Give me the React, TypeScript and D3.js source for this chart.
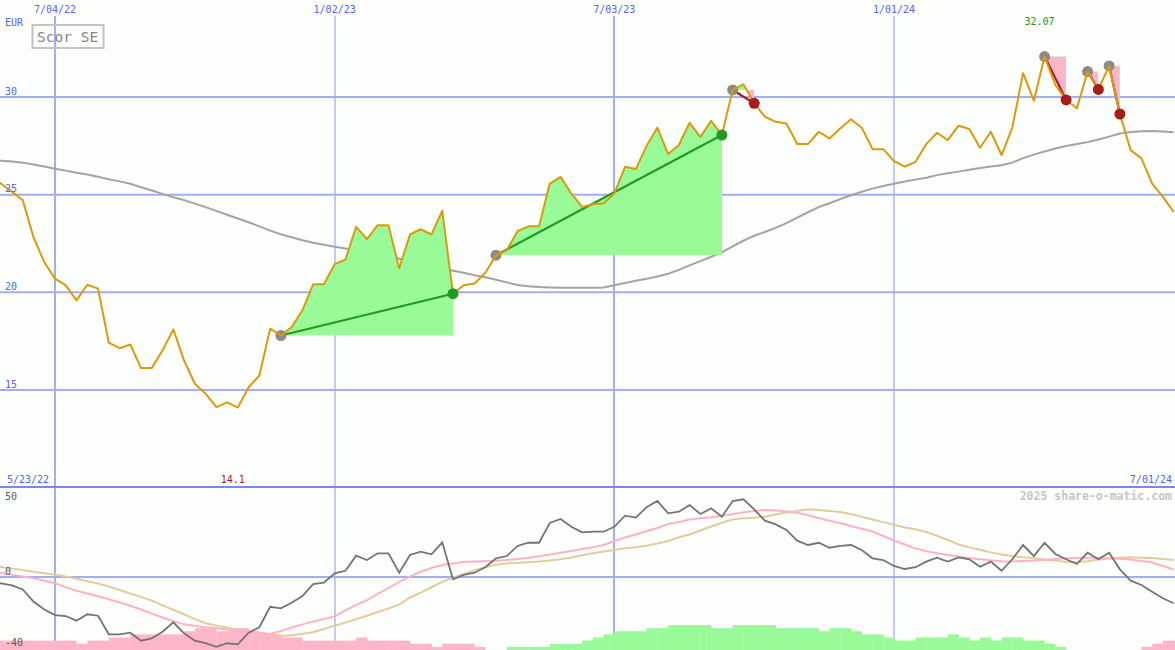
import React from 'react';
import * as d3 from 'd3';

const W = 1175;
const H = 650;

const firstWeek = '2022-05-23';
const xAnchors = ['2022-07-04', '2024-01-01'];
const tickDates = ['2022-07-04', '2023-01-02', '2023-07-03', '2024-01-01'];
const priceTicks = [15, 20, 25, 30];
const oscTicks = [50, 0, -40];
const title = 'Scor SE';
const currency = 'EUR';
const watermark = '2025 share-o-matic.com';

// weekly closes (EUR)
const price = [
  25.85, 25.56, 25.15, 24.72, 22.82, 21.55,
  20.70, 20.36, 19.59, 20.39, 20.19, 17.42, 17.14, 17.33, 16.12, 16.12,
  17.03, 18.10, 16.51, 15.32, 14.81, 14.12, 14.37, 14.10, 15.14, 15.74,
  18.14, 17.79, 18.22, 19.08, 20.41, 20.41, 21.44, 21.68, 23.35, 22.72,
  23.44, 23.44, 21.23, 22.96, 23.23, 22.96, 24.17, 19.93, 20.36, 20.45,
  20.99, 21.90, 22.15, 23.13, 23.38, 23.38, 25.57, 25.91, 25.06, 24.37,
  24.51, 24.55, 25.06, 26.43, 26.31, 27.50, 28.43, 27.08, 27.54, 28.68,
  27.96, 28.78, 28.05, 30.36, 30.65, 29.68, 28.99, 28.73, 28.64, 27.59,
  27.59, 28.22, 27.88, 28.39, 28.86, 28.43, 27.33, 27.33, 26.72, 26.43,
  26.68, 27.59, 28.17, 27.79, 28.53, 28.36, 27.40, 28.22, 27.03, 28.43,
  31.22, 29.81, 32.07, 30.62, 29.85, 29.42, 31.30, 30.39, 31.59, 29.13,
  27.28, 26.86, 25.57, 24.89, 24.12,
];

// long moving average (grey)
const maLong = [
  26.74, 26.73, 26.70, 26.64, 26.54, 26.44,
  26.33, 26.23, 26.12, 26.03, 25.92, 25.79, 25.68, 25.56, 25.38, 25.21,
  25.04, 24.87, 24.72, 24.54, 24.36, 24.17, 23.97, 23.78, 23.59, 23.38,
  23.16, 22.97, 22.82, 22.67, 22.54, 22.44, 22.33, 22.24, 22.15, 22.05,
  21.97, 21.95, 21.72, 21.54, 21.41, 21.31, 21.21, 21.10, 21.00, 20.87,
  20.77, 20.64, 20.51, 20.38, 20.31, 20.27, 20.25, 20.24, 20.24, 20.24,
  20.24, 20.25, 20.36, 20.48, 20.59, 20.69, 20.81, 20.95, 21.15, 21.38,
  21.60, 21.82, 22.05, 22.35, 22.64, 22.90, 23.09, 23.30, 23.54, 23.82,
  24.10, 24.36, 24.56, 24.77, 24.97, 25.15, 25.31, 25.44, 25.56, 25.67,
  25.77, 25.87, 26.00, 26.10, 26.18, 26.27, 26.36, 26.44, 26.51, 26.64,
  26.87, 27.05, 27.21, 27.36, 27.49, 27.59, 27.69, 27.82, 27.97, 28.13,
  28.21, 28.25, 28.26, 28.23, 28.19,
];

// lower panel oscillator (dark grey)
const osc = [
  -3.0, -4.0, -5.3, -7.8, -15.3, -20.3,
  -23.8, -24.4, -27.3, -23.3, -24.2, -35.8, -35.8, -34.8, -39.8, -38.3,
  -34.2, -28.3, -35.2, -39.8, -41.4, -43.6, -41.4, -42.1, -34.8, -31.4,
  -18.6, -19.6, -16.1, -11.9, -4.4, -3.6, 2.3, 3.9, 13.3, 10.6,
  14.8, 14.8, 2.7, 13.8, 15.8, 14.2, 21.7, -1.4, 1.3, 2.7,
  6.1, 11.7, 13.1, 19.4, 21.4, 21.4, 33.8, 36.3, 31.4, 27.9,
  28.3, 28.3, 31.4, 38.3, 37.1, 43.6, 47.5, 39.8, 40.8, 45.0,
  39.4, 42.9, 37.7, 47.5, 48.6, 42.3, 35.2, 32.9, 29.4, 22.7,
  20.0, 21.4, 18.3, 19.4, 20.0, 16.9, 11.7, 10.6, 6.9, 5.0,
  6.1, 9.6, 12.1, 9.6, 12.3, 11.1, 6.4, 9.6, 3.9, 11.1,
  20.0, 13.1, 21.4, 14.4, 11.1, 8.1, 15.2, 11.1, 15.2, 4.8,
  -2.3, -5.0, -9.2, -13.3, -16.4,
];

// fast average of oscillator (pink)
const oscFast = [
  3.8, 2.5, 1.4, 0.3, -0.8, -2.4,
  -3.9, -6.3, -8.6, -10.3, -12.0, -13.9, -15.9, -18.0, -20.3, -22.9,
  -25.3, -27.6, -29.6, -30.6, -31.4, -32.1, -32.7, -33.3, -33.9, -34.8,
  -35.6, -33.8, -31.6, -29.6, -27.9, -26.3, -24.6, -20.9, -17.5, -14.4,
  -10.6, -6.9, -3.1, 0.2, 3.3, 5.6, 7.5, 8.4, 9.4, 9.7,
  9.9, 10.1, 10.6, 11.3, 12.0, 12.9, 14.1, 15.2, 16.3, 17.5,
  18.6, 20.0, 22.5, 24.7, 26.6, 28.6, 30.6, 33.1, 34.4, 36.0,
  36.7, 37.3, 38.3, 39.4, 40.4, 41.3, 41.9, 41.6, 40.9, 40.1,
  38.6, 36.9, 35.2, 33.6, 31.9, 30.2, 28.4, 25.6, 22.8, 20.3,
  17.9, 16.1, 14.9, 13.7, 12.8, 11.9, 11.1, 10.4, 9.9, 9.7,
  10.0, 10.3, 10.8, 11.3, 11.7, 11.9, 12.0, 12.0, 11.7, 11.4,
  11.0, 10.0, 9.1, 6.9, 4.7,
];

// slow average of oscillator (tan)
const oscSlow = [
  7.4, 6.3, 5.3, 4.3, 3.3, 2.4,
  1.5, 0.4, -1.1, -2.6, -4.1, -5.9, -8.1, -10.4, -12.4, -14.8,
  -17.7, -20.5, -23.3, -26.3, -28.9, -30.4, -31.6, -32.9, -34.1, -35.1,
  -36.0, -36.8, -36.4, -35.4, -34.5, -32.5, -30.4, -28.5, -26.3, -24.2,
  -21.9, -19.6, -17.2, -12.8, -9.8, -6.4, -3.1, -0.4, 1.9, 4.3,
  6.1, 7.7, 8.5, 8.8, 9.2, 9.7, 10.3, 11.1, 12.2, 13.6,
  14.9, 16.0, 16.9, 17.9, 18.6, 19.6, 20.9, 22.5, 24.8, 26.6,
  29.1, 31.6, 33.9, 35.9, 36.7, 37.1, 37.7, 39.0, 40.4, 41.3,
  42.3, 41.9, 41.3, 40.6, 39.4, 37.7, 35.9, 34.3, 32.6, 31.0,
  29.8, 28.1, 25.8, 23.1, 20.3, 18.5, 17.0, 15.4, 14.1, 13.1,
  12.4, 11.8, 11.0, 10.3, 9.4, 9.2, 9.8, 10.9, 11.6, 12.0,
  12.3, 12.1, 11.8, 11.3, 10.7,
];

// histogram strength (positive green, negative pink)
const hist = [
  -3, -3, -3, -3, -3, -3, -3, -3, -2, -3,
  -3, -4, -4, -5, -5, -5, -5, -5, -6, -7,
  -7, -6, -7, -7, -6, -5, -5, -4, -4, -3,
  -3, -3, -3, -3, -4, -3, -3, -3, -3, -2,
  -2, -1, -2, -2, -2, -1, 0, 0, 1, 1,
  1, 1, 2, 2, 2, 3, 4, 5, 6, 6,
  6, 7, 7, 8, 8, 8, 8, 7, 7, 8,
  8, 8, 8, 7, 7, 7, 7, 6, 7, 7,
  6, 5, 5, 4, 3, 3, 4, 4, 4, 5,
  4, 3, 4, 3, 4, 4, 3, 3, 2, 1,
  0, 0, 0, 0, 0, 0, 0, -1, -2, -3, -3,
];

// trend signals (week indices)
const signalStart = [27, 47, 69, 98, 102, 104];
const signalEnd = [43, 68, 71, 100, 103, 105];

const FONT = 'DejaVu Sans Mono, monospace';
const BLUE_TEXT = '#5565ee';
const GRID = '#a2adf3';
const SEP = '#7a88ee';
const GREEN_FILL = '#98fb98';
const PINK_FILL = '#ffb6c8';
const GREEN = '#229a22';
const RED = '#a81c1c';

const utc = (s: string) => new Date(s + 'T00:00:00Z');

export default function App() {
  const start = utc(firstWeek);
  const dates = price.map((_, i) => d3.utcDay.offset(start, 7 * i));
  const x = d3.scaleUtc().domain(xAnchors.map(utc)).range([55, 894]);
  const y = d3.scaleLinear().domain([15, 30]).range([390, 97]);
  const yb = d3.scaleLinear().domain([-40, 50]).range([641, 497]);
  const yh = d3.scaleLinear().domain([0, 8]).range([650, 625]);
  const fmt = d3.utcFormat('%-m/%d/%y');
  const idx = d3.range(price.length);

  const lineOf = (arr: number[], sc: (v: number) => number) =>
    d3.line<number>().x(i => x(dates[i])).y(i => sc(arr[i]))(idx) || '';

  const iMax = d3.maxIndex(price);
  const iMin = d3.minIndex(price);
  const numFmt = (v: number) => String(+v.toFixed(2));

  const signals = signalStart.map((s, k) => {
    const e = signalEnd[k];
    const base = price[s];
    const yb0 = y(base);
    const r = d3.range(s, e + 1);
    const area = d3.area<number>().x(i => x(dates[i])).y0(yb0).y1(i => y(price[i]))(r) || '';
    const xs = x(dates[s]);
    const xe = x(dates[e]);
    const ye = y(price[e]);
    const tri = `M${xs},${yb0}L${xe},${ye}L${xe},${yb0}Z`;
    const up = price[e] > base;
    return { k, s, e, yb0, area, tri, xs, xe, ye, up };
  });

  const oscLabelY = (v: number) => {
    if (v === d3.max(oscTicks)) return yb(v) + 3;
    if (v === d3.min(oscTicks)) return yb(v) + 4.5;
    return yb(v) - 2.5;
  };

  return (
    <svg width={W} height={H} style={{ position: 'absolute', left: 0, top: 0 }} xmlns="http://www.w3.org/2000/svg">
      <defs>
        <clipPath id="mainClip"><rect x={0} y={0} width={W} height={487} /></clipPath>
        <clipPath id="lowClip"><rect x={0} y={489} width={W} height={H - 489} /></clipPath>
        {signals.map(sg => (
          <React.Fragment key={sg.k}>
            <clipPath id={`above${sg.k}`}><rect x={0} y={0} width={W} height={sg.yb0} /></clipPath>
            <clipPath id={`below${sg.k}`}><rect x={0} y={sg.yb0} width={W} height={487 - sg.yb0} /></clipPath>
            <clipPath id={`tri${sg.k}`}><path d={sg.tri} /></clipPath>
          </React.Fragment>
        ))}
      </defs>
      <rect x={0} y={0} width={W} height={H} fill="#fcfffc" />

      {/* horizontal grid */}
      {priceTicks.map(t => (
        <line key={t} x1={0} x2={W} y1={y(t)} y2={y(t)} stroke={GRID} strokeWidth={2} />
      ))}
      <line x1={0} x2={W} y1={yb(0)} y2={yb(0)} stroke={GRID} strokeWidth={2} />

      {/* vertical grid */}
      {tickDates.map(t => {
        const d = utc(t);
        const xx = Math.round(x(d));
        const wide = d.getUTCMonth() === 6;
        return (
          <line key={t} x1={xx} x2={xx} y1={16} y2={H} stroke={GRID} strokeWidth={wide ? 2 : 1.3} />
        );
      })}

      <line x1={0} x2={W} y1={487} y2={487} stroke={SEP} strokeWidth={2.2} />

      {/* main panel */}
      <g clipPath="url(#mainClip)">
        <path d={lineOf(maLong, y)} fill="none" stroke="#a3a3a3" strokeWidth={2} />
        {signals.map(sg => (
          <React.Fragment key={sg.k}>
            <g clipPath={`url(#above${sg.k})`}>
              <path d={sg.area} fill={GREEN_FILL} />
              <path d={sg.tri} fill={GREEN_FILL} />
            </g>
            <g clipPath={`url(#below${sg.k})`}>
              <path d={sg.area} fill={PINK_FILL} clipPath={`url(#tri${sg.k})`} />
            </g>
          </React.Fragment>
        ))}
        {signals.map(sg => (
          <line key={sg.k} x1={sg.xs} y1={sg.yb0} x2={sg.xe} y2={sg.ye} stroke={sg.up ? GREEN : RED} strokeWidth={2.2} />
        ))}
        {signals.map(sg => (
          <circle key={sg.k} cx={sg.xs} cy={sg.yb0} r={5.5} fill="#8a8a8a" />
        ))}
        <path d={lineOf(price, y)} fill="none" stroke="#dc9a0c" strokeWidth={2} strokeLinejoin="round" />
        {signals.map(sg => (
          <circle key={sg.k} cx={sg.xe} cy={sg.ye} r={5.5} fill={sg.up ? GREEN : RED} />
        ))}
      </g>

      {/* lower panel */}
      <g clipPath="url(#lowClip)">
        {hist.map((v, i) => {
          if (v === 0) return null;
          const x0 = x(dates[i]);
          const x1 = x(d3.utcDay.offset(dates[i], 7));
          const top = yh(Math.abs(v));
          return (
            <rect key={i} x={x0} y={top} width={x1 - x0 + 0.3} height={H - top} fill={v > 0 ? GREEN_FILL : PINK_FILL} />
          );
        })}
        <path d={lineOf(oscSlow, yb)} fill="none" stroke="#e3cc9c" strokeWidth={2} />
        <path d={lineOf(oscFast, yb)} fill="none" stroke="#ffb2c6" strokeWidth={2} />
        <path d={lineOf(osc, yb)} fill="none" stroke="#747474" strokeWidth={1.8} />
      </g>

      {/* texts */}
      <g fontFamily={FONT} fontSize={10}>
        {tickDates.map(t => (
          <text key={t} x={x(utc(t))} y={12.5} textAnchor="middle" fill={BLUE_TEXT}>{fmt(utc(t))}</text>
        ))}
        <text x={5} y={25.5} fill={BLUE_TEXT}>{currency}</text>
        {priceTicks.map(t => (
          <text key={t} x={5} y={y(t) - 2.5} fill={BLUE_TEXT}>{t}</text>
        ))}
        <text x={x(dates[iMax]) - 5} y={24.7} textAnchor="middle" fill={GREEN}>{numFmt(price[iMax])}</text>
        <text x={x(dates[iMin]) - 5} y={482.6} textAnchor="middle" fill={RED}>{numFmt(price[iMin])}</text>
        <text x={7} y={482.6} fill={BLUE_TEXT}>{fmt(dates[0])}</text>
        <text x={1172} y={482.6} textAnchor="end" fill={BLUE_TEXT}>{fmt(dates[dates.length - 1])}</text>
        {oscTicks.map(t => (
          <text key={t} x={5} y={oscLabelY(t)} fill="#5a5a5a">{t}</text>
        ))}
        <text x={1172} y={500.2} textAnchor="end" fill="#c6c6c6" fontSize={11.5} fontWeight="bold">{watermark}</text>
      </g>

      <rect x={32.5} y={25} width={71} height={23} fill="none" stroke="#c4c4c4" strokeWidth={2} />
      <text x={37} y={41.5} fontFamily={FONT} fontSize={14.5} fill="#858585">{title}</text>
    </svg>
  );
}
